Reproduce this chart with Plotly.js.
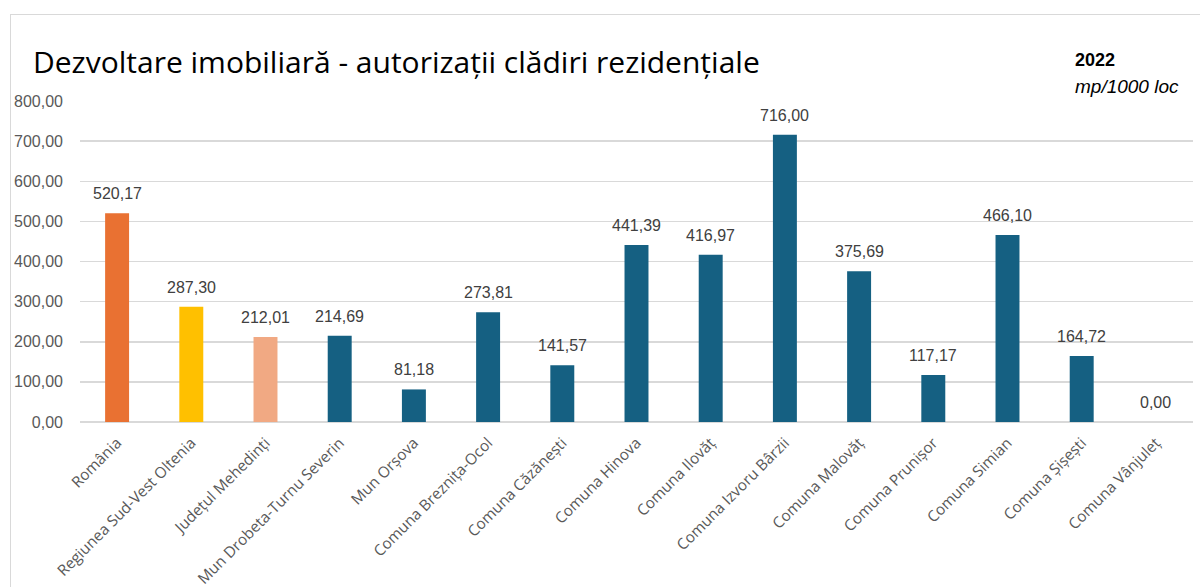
<!DOCTYPE html>
<html>
<head>
<meta charset="utf-8">
<script src="https://cdn.plot.ly/plotly-3.0.1.min.js"></script>
<style>
  html, body { margin: 0; padding: 0; background: #ffffff; }
  #frame { position: absolute; left: 10px; top: 14px; width: 1200px; height: 600px; border: 1px solid #d9d9d9; box-sizing: border-box; }
  #chart { position: absolute; left: 0; top: 0; width: 1200px; height: 587px; }
</style>
</head>
<body>
<div id="frame"></div>
<div id="chart"></div>
<script>
const categories = [
  "România", "Regiunea Sud-Vest Oltenia", "Județul Mehedinți", "Mun Drobeta-Turnu Severin",
  "Mun Orșova", "Comuna Breznița-Ocol", "Comuna Căzănești", "Comuna Hinova", "Comuna Ilovăț",
  "Comuna Izvoru Bârzii", "Comuna Malovăț", "Comuna Prunișor", "Comuna Simian",
  "Comuna Șișești", "Comuna Vânjuleț"
];
const values = [520.17, 287.30, 212.01, 214.69, 81.18, 273.81, 141.57, 441.39, 416.97,
  716.00, 375.69, 117.17, 466.10, 164.72, 0.00];
const barColors = ["#E97132", "#FFC000", "#F1A983", "#156082", "#156082", "#156082", "#156082",
  "#156082", "#156082", "#156082", "#156082", "#156082", "#156082", "#156082", "#156082"];
const yTicks = [0, 100, 200, 300, 400, 500, 600, 700, 800];
const titleText = "Dezvoltare imobiliară - autorizații clădiri rezidențiale";
const yearText = "2022";
const unitText = "mp/1000 loc";

const fmt = v => v.toFixed(2).replace(".", ",");

const trace = {
  type: "bar",
  x: categories,
  y: values,
  marker: { color: barColors, line: { width: 0 } },
  hoverinfo: "x+y"
};

const labelAnnotations = categories.map((c, i) => ({
  x: c, y: values[i], xref: "x", yref: "y",
  text: fmt(values[i]), showarrow: false,
  yanchor: "bottom", yshift: 9,
  font: { family: "Liberation Sans, Arial, sans-serif", size: 16, color: "#404040" }
}));

const layout = {
  width: 1200, height: 587,
  margin: { l: 80, r: 7, t: 101, b: 165 },
  paper_bgcolor: "rgba(0,0,0,0)",
  plot_bgcolor: "rgba(0,0,0,0)",
  separators: ",.",
  bargap: 0.677,
  showlegend: false,
  title: {
    text: titleText,
    xref: "container", yref: "container",
    x: 33 / 1200, xanchor: "left",
    y: 1 - 62 / 587, yanchor: "middle",
    font: { family: "Open Sans, sans-serif", size: 30, color: "#000000" }
  },
  xaxis: {
    type: "category",
    tickangle: -45,
    showgrid: false,
    showline: false,
    ticks: "",
    ticklabelstandoff: 8,
    tickfont: { family: "Open Sans, sans-serif", size: 15.3, color: "#595959" },
    fixedrange: true
  },
  yaxis: {
    range: [0, 800],
    tickvals: yTicks,
    tickformat: ".2f",
    showgrid: true,
    gridcolor: "#d9d9d9",
    gridwidth: 1.5,
    zeroline: true,
    zerolinecolor: "#d9d9d9",
    zerolinewidth: 2,
    showline: false,
    ticks: "",
    ticklabelstandoff: 16,
    tickfont: { family: "Liberation Sans, Arial, sans-serif", size: 16, color: "#595959" },
    fixedrange: true
  },
  annotations: labelAnnotations.concat([
    {
      xref: "paper", yref: "paper",
      x: (1073 - 80) / 1113, y: 1 + (101 - 60) / 321,
      xanchor: "left", yanchor: "middle",
      text: "<b>" + yearText + "</b>", showarrow: false,
      font: { family: "Liberation Sans, Arial, sans-serif", size: 18, color: "#000000" }
    },
    {
      xref: "paper", yref: "paper",
      x: (1073 - 80) / 1113, y: 1 + (101 - 86) / 321,
      xanchor: "left", yanchor: "middle",
      text: "<i>" + unitText + "</i>", showarrow: false,
      font: { family: "Liberation Sans, Arial, sans-serif", size: 19, color: "#000000" }
    }
  ])
};

Plotly.newPlot("chart", [trace], layout, { displayModeBar: false, staticPlot: true });
</script>
</body>
</html>
